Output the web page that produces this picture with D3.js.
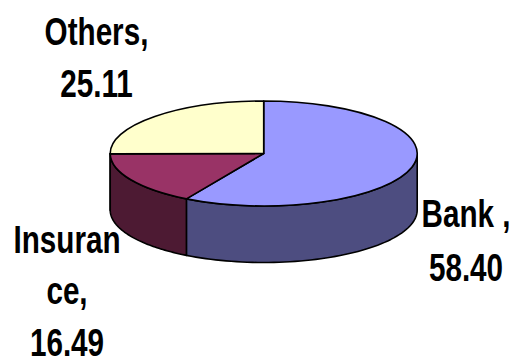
<!DOCTYPE html>
<html><head><meta charset="utf-8">
<script src="https://cdn.jsdelivr.net/npm/d3@7"></script>
<style>html,body{margin:0;padding:0;background:#fff}svg{display:block}
text{font-family:"Liberation Sans",sans-serif;font-weight:bold;font-size:38.5px;fill:#000}</style>
</head><body><svg id="c" width="523" height="359"></svg>
<script>
const categories=["Bank","Insurance","Others"];
const shares=[58.40,16.49,25.11];
const topColors=["#9999ff","#993366","#ffffcc"];
const sideColors=["#4d4d80","#4d1a33","#808066"];
const labelLines=[["Bank ,","58.40"],["Insuran","ce,","16.49"],["Others,","25.11"]];
const labelAnchors=[[466,227,54],[67,252.5,51.5],[96.5,44.5,52.5]];

const svg=d3.select("#c");
const cx=263.7,cy=153.5,rx=153.5,ry=52.5,depth=56.5,squeeze=0.77;
const arcs=d3.pie().sort(null).value(d=>d)(shares);
const px=a=>cx+rx*Math.sin(a), py=a=>cy-ry*Math.cos(a);

// side walls: the visible front half of the rim
const lo=Math.PI/2, hi=3*Math.PI/2;
arcs.forEach((a,i)=>{
  const s=Math.max(a.startAngle,lo), e=Math.min(a.endAngle,hi);
  if(e<=s) return;
  const n=60, ang=d3.range(n+1).map(k=>s+(e-s)*k/n);
  const pts=ang.map(t=>[px(t),py(t)]).concat(ang.slice().reverse().map(t=>[px(t),py(t)+depth]));
  svg.append("path").attr("d",d3.line()(pts)+"Z")
    .attr("fill",sideColors[i]).attr("stroke","#000").attr("stroke-width",1.6).attr("stroke-linejoin","round");
});
// top face
const g=svg.append("g").attr("transform",`translate(${cx},${cy}) scale(1,${ry/rx})`);
g.selectAll("path").data(arcs).join("path")
  .attr("d",d3.arc().innerRadius(0).outerRadius(rx))
  .attr("fill",(d,i)=>topColors[i]).attr("stroke","#000").attr("stroke-width",1.6)
  .attr("vector-effect","non-scaling-stroke").attr("stroke-linejoin","round");
// labels
labelLines.forEach((lines,i)=>{
  const [x,y,lh]=labelAnchors[i];
  lines.forEach((t,j)=>svg.append("text")
    .attr("transform",`translate(${x},${y+j*lh}) scale(${squeeze},1)`)
    .attr("text-anchor","middle").text(t));
});
</script></body></html>
